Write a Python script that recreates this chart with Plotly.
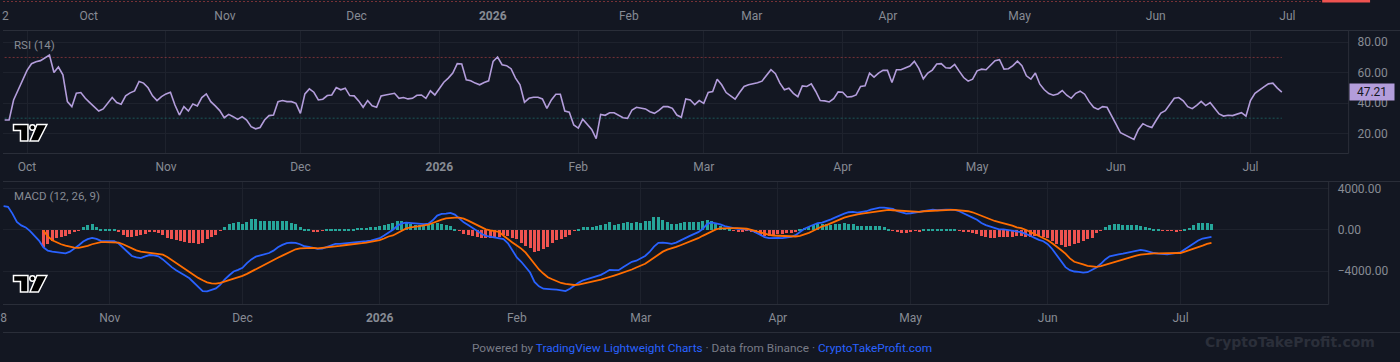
import pandas as pd
import plotly.graph_objects as go

W, H = 1400, 362
BG = '#131722'
GRID = '#1e222d'
BORDER = '#2a2e39'
TEXT = '#878b94'
FONT = 'Roboto'

# ---------------- data ----------------
rsi_start = '2025-09-26'
rsi_values = [
    28.8, 28.8, 42.0, 48.2, 55.3, 61.5, 65.9, 67.2, 67.9, 69.6,
    71.6, 60.1, 63.7, 58.6, 40.9, 37.6, 46.4, 46.9, 43.1, 40.3,
    37.2, 34.7, 36.1, 39.8, 43.6, 40.3, 39.2, 44.7, 46.7, 48.0,
    54.2, 53.1, 50.0, 44.7, 41.6, 44.2, 46.0, 47.1, 38.7, 32.1,
    37.6, 34.7, 39.4, 38.1, 43.6, 46.0, 40.9, 38.1, 35.0, 30.3,
    32.5, 31.0, 29.2, 31.0, 28.8, 24.4, 23.0, 23.9, 28.8, 31.7,
    32.1, 40.9, 41.6, 40.9, 40.9, 39.8, 33.2, 46.0, 49.3, 47.1,
    42.0, 42.5, 44.9, 45.3, 50.2, 48.7, 49.8, 44.9, 44.7, 41.4,
    37.2, 41.6, 38.1, 37.2, 44.7, 45.3, 46.0, 46.4, 43.1, 43.6,
    42.7, 43.1, 45.1, 45.3, 43.1, 48.0, 45.3, 49.8, 53.7, 56.4,
    59.7, 65.9, 65.7, 55.3, 54.6, 53.1, 52.0, 53.5, 54.6, 67.4,
    70.3, 65.2, 64.6, 62.6, 56.4, 52.0, 40.5, 43.1, 43.8, 43.8,
    42.7, 36.5, 42.0, 45.8, 45.8, 34.7, 33.9, 25.5, 23.5, 29.4,
    26.1, 22.6, 16.6, 32.5, 31.9, 33.6, 33.6, 32.1, 30.3, 29.9,
    35.4, 37.2, 36.5, 36.1, 34.3, 33.2, 35.2, 37.6, 37.6, 36.5,
    32.1, 30.6, 42.7, 42.0, 38.9, 41.6, 39.8, 46.9, 47.6, 55.7,
    52.0, 46.9, 44.7, 42.5, 46.9, 50.9, 52.0, 52.6, 53.3, 54.4,
    57.9, 61.9, 59.3, 53.1, 48.7, 49.8, 46.4, 44.2, 51.3, 50.9,
    52.6, 47.6, 41.6, 41.4, 40.7, 42.9, 47.3, 47.1, 44.0, 44.2,
    45.3, 50.9, 51.3, 59.7, 57.0, 59.7, 61.5, 61.5, 53.5, 61.9,
    61.9, 63.0, 64.3, 67.4, 62.8, 55.9, 59.7, 61.7, 65.7, 65.9,
    63.2, 63.0, 65.4, 61.0, 56.8, 54.4, 55.7, 61.2, 62.3, 61.9,
    65.0, 67.9, 68.5, 62.3, 62.6, 64.6, 67.6, 64.6, 57.9, 55.7,
    59.7, 52.4, 48.7, 46.2, 45.1, 46.0, 48.2, 45.1, 43.1, 46.4,
    47.8, 45.8, 40.9, 37.2, 35.8, 37.6, 37.2, 32.1, 26.1, 20.4,
    19.1, 17.3, 16.0, 22.6, 26.4, 24.8, 23.9, 28.8, 33.4, 35.0,
    39.4, 43.1, 43.6, 41.4, 37.6, 36.3, 38.5, 41.1, 38.3, 40.3,
    36.5, 32.8, 31.4, 31.9, 31.7, 32.5, 33.6, 31.4, 41.6, 46.4,
    48.7, 50.6, 52.6, 53.1, 49.8, 47.21,
]
rsi_levels = [70, 30]
rsi_last_label = '47.21'

macd_start = '2025-10-08'
macd_line = [
    2274, 2208, 1558, 745, 420, 225, -133, -556, -1044, -1694,
    -2019, -2117, -2149, -2214, -2279, -2117, -1824, -1499, -1141, -914,
    -783, -881, -1076, -1109, -1109, -1109, -1336, -1727, -2149, -2540,
    -2670, -2735, -2572, -2442, -2474, -2572, -2865, -3255, -3613, -3905,
    -4198, -4426, -4686, -5109, -5596, -5922, -5954, -5824, -5661, -5304,
    -4783, -4393, -4035, -3873, -3678, -3222, -2865, -2605, -2507, -2377,
    -2247, -2019, -1694, -1466, -1304, -1239, -1271, -1401, -1596, -1661,
    -1792, -1857, -1824, -1661, -1531, -1369, -1369, -1336, -1271, -1271,
    -1206, -1141, -1109, -1044, -914, -816, -556, -296, -3, 387,
    615, 680, 647, 582, 582, 550, 582, 908, 1363, 1525,
    1558, 1623, 1460, 1070, 712, 452, 160, -68, -393, -588,
    -653, -718, -848,
    -914, -1304, -2052, -2670, -3092, -3580, -4133, -5044, -5466, -5694,
    -5759, -5759, -5792, -5857, -5922, -5694, -5369, -5109, -4881, -4751,
    -4686, -4556, -4361, -4133, -3873, -3905, -3905, -3613, -3320, -3092,
    -2995, -2800, -2540, -2149, -1629, -1271, -1239, -1304, -1369, -1239,
    -1011, -816, -621, -426, -231, 62, 550, 712, 647, 517,
    355, 225, 160, 95, 95, 30, -35, -263, -523, -718,
    -816, -783, -783, -816, -783, -686, -523, -198, 95, 290,
    452, 647, 680, 810, 1005, 1200, 1395, 1558, 1688, 1721,
    1656, 1688, 1786, 1948, 2078, 2143, 2143, 2111, 2013, 1786,
    1656, 1558, 1591, 1656, 1721, 1818, 1916, 1948, 1883, 1948,
    1948, 1948, 1916, 1786, 1558, 1363, 1168, 973, 647, 452,
    322, 192, 30,
    30, -35, -68, -133, -231, -393, -588, -816, -979, -1109,
    -1401, -1857, -2442, -3027, -3613, -3905, -4035, -4068, -4133, -4100,
    -3905, -3645, -3287, -2865, -2572, -2442, -2377, -2312, -2214, -2117,
    -2052, -1954, -2019, -2149, -2247, -2312, -2377, -2377, -2312, -2279,
    -2182, -1889, -1596, -1304, -1044, -848, -751, -686,
]
macd_signal = [None] * 9 + [
    -68, -653, -1011, -1239, -1401, -1531, -1661, -1727, -1759, -1694,
    -1564, -1401, -1271, -1206, -1206, -1206, -1206, -1239, -1401, -1596,
    -1824, -1987, -2117, -2182, -2214, -2247, -2312, -2409, -2637, -2930,
    -3190, -3515, -3808, -4068, -4361, -4653, -4881, -5076, -5174, -5206,
    -5141, -5011, -4881, -4718, -4588, -4458, -4263, -4035, -3775, -3548,
    -3320, -3092, -2865, -2702, -2507, -2312, -2052, -1889, -1792, -1759,
    -1727, -1759, -1792, -1759, -1694, -1661, -1629, -1564, -1499, -1466,
    -1434, -1369, -1304, -1239, -1174, -1109, -1011, -848, -653, -556,
    -328, -68, 127, 225, 322, 355, 420, 485, 647, 843,
    973, 1103, 1168, 1168, 1168, 1070, 875, 647, 420, 225,
    30, -68, -133, -198,
    -588, -946, -1239, -1531, -1824, -2214, -2767, -3353, -3840, -4231,
    -4588, -4783, -4979, -5141, -5239, -5304, -5336, -5304, -5206, -5174,
    -5076, -4979, -4816, -4686, -4523, -4426, -4296, -4166, -4003, -3840,
    -3645, -3483, -3287, -2995, -2702, -2409, -2117, -1922, -1824, -1661,
    -1499, -1336, -1141, -979, -816, -588, -393, -166, 30, 127,
    160, 160, 160, 160, 160, 95, -3, -133, -296, -426,
    -491, -556, -588, -588, -621, -653, -653, -588, -458, -296,
    -101, 127, 322, 452, 647, 843, 1038, 1168, 1298, 1428,
    1493, 1558, 1623, 1688, 1786, 1851, 1916, 1916, 1883, 1851,
    1786, 1753, 1721, 1721, 1721, 1786, 1818, 1851, 1883, 1883,
    1883, 1916, 1916, 1883, 1851, 1786, 1688, 1525, 1363, 1168,
    973, 843, 745,
    647, 517, 387, 225, 160, -3, -198, -393, -588, -751,
    -1011, -1304, -1596, -1954, -2312, -2767, -3092, -3190, -3353, -3483,
    -3548, -3580, -3515, -3385, -3255, -3092, -2995, -2865, -2735, -2637,
    -2507, -2409, -2344, -2279, -2279, -2279, -2279, -2279, -2279, -2279,
    -2247, -2117, -1987, -1824, -1661, -1531, -1369, -1271,
]
macd_hist = [None] * 9 + [
    -1593, -1366, -1041, -780, -650, -553, -390, -130, -33, 325,
    520, 585, 358, 163, 98, 98, 98, -130, -455, -650,
    -650, -553, -455, -325, -130, -130, -293, -455, -715, -878,
    -943, -1041, -1138, -1203, -1203, -1301, -1203, -878, -650, -455,
    -65, 325, 650, 715, 813, 650, 813, 1073, 1073, 911,
    846, 846, 911, 911, 911, 911, 715, 585, 325, 98,
    98, -130, -163, -65, 130, 163, 163, 163, 163, 163,
    163, 195, 195, 228, 325, 325, 390, 488, 585, 683,
    846, 846, 748, 585, 520, 488, 553, 520, 650, 683,
    585, 520, 390, 163, -65, -325, -455, -553, -618, -715,
    -780, -715, -780, -650,
    -455, -553, -715, -878, -1203, -1528, -1691, -2081, -2016, -1854,
    -1593, -1203, -976, -878, -650, -455, -65, 98, 325, 325,
    325, 423, 520, 650, 748, 520, 585, 715, 748, 683,
    748, 683, 846, 911, 1236, 1236, 1008, 748, 585, 585,
    683, 748, 748, 748, 748, 846, 1008, 911, 650, 423,
    260, 98, -65, -130, -130, -65, -130, -260, -455, -553,
    -553, -455, -390, -390, -293, -228, -130, 98, 260, 358,
    520, 585, 650, 585, 488, 585, 650, 683, 650, 650,
    423, 423, 423, 423, 423, 390, 325, 33, -65, -130,
    -228, -228, -130, -65, -98, 98, 98, 130, 98, 98,
    98, 98, 65, -33, -130, -195, -293, -390, -553, -650,
    -715, -780, -700,
    -683, -683, -650, -553, -553, -650, -650, -520, -553, -650,
    -748, -1041, -1301, -1463, -1593, -1528, -1366, -1203, -1041, -878,
    -715, -260, -65, 325, 520, 650, 650, 520, 520, 520,
    488, 423, 325, 195, 98, 33, -20, -65, -65, -130,
    -33, 65, 260, 488, 683, 715, 683, 585,
]

month_ticks = ['2025-10-01', '2025-11-01', '2025-12-01', '2026-01-01', '2026-02-01',
               '2026-03-01', '2026-04-01', '2026-05-01', '2026-06-01', '2026-07-01']
month_labels = ['Oct', 'Nov', 'Dec', '<b>2026</b>', 'Feb', 'Mar', 'Apr', 'May', 'Jun', 'Jul']
top_ticks = ['2025-09-12'] + month_ticks
top_labels = ['2'] + month_labels
macd_ticks = ['2025-10-08'] + month_ticks[1:]
macd_labels = ['8'] + month_labels[1:]
rsi_y_ticks = [20, 40, 60, 80]
rsi_y_labels = ['20.00', '40.00', '60.00', '80.00']
macd_y_ticks = [-4000, 0, 4000]
macd_y_labels = ['\u22124000.00', '0.00', '4000.00']

rsi_dates = pd.date_range(rsi_start, periods=len(rsi_values), freq='D')
macd_dates = pd.date_range(macd_start, periods=len(macd_line), freq='D')


# ---------------- helpers (layout geometry) ----------------
def px(x):
    return x / W


def py(y):
    return 1 - y / H


def date_span(anchor, anchor_px, px_per_day, left_px, right_px):
    t0 = pd.Timestamp(anchor)
    a = t0 + pd.Timedelta(days=(left_px - anchor_px) / px_per_day)
    b = t0 + pd.Timedelta(days=(right_px - anchor_px) / px_per_day)
    return [a.strftime('%Y-%m-%d %H:%M:%S'), b.strftime('%Y-%m-%d %H:%M:%S')]


RSI_SCALE_X = 1348.5
MACD_SCALE_X = 1328.5

fig = go.Figure()

# RSI levels
level_colors = ['rgba(239,83,80,0.45)', 'rgba(38,166,154,0.45)']
for lvl, col in zip(rsi_levels, level_colors):
    fig.add_trace(go.Scatter(x=rsi_dates, y=[lvl] * len(rsi_dates), mode='lines',
                             line=dict(color=col, width=1, dash='2px,2px'),
                             xaxis='x', yaxis='y', hoverinfo='skip', showlegend=False))
# RSI line
fig.add_trace(go.Scatter(x=rsi_dates, y=rsi_values, mode='lines',
                         line=dict(color='#b39ddb', width=1.6),
                         xaxis='x', yaxis='y', hoverinfo='skip', showlegend=False))

# MACD histogram
hist_colors = ['#26a69a' if (v is not None and v >= 0) else '#ef5350' for v in macd_hist]
fig.add_trace(go.Bar(x=macd_dates, y=macd_hist, marker=dict(color=hist_colors, line=dict(width=0)),
                     width=0.68 * 86400000, xaxis='x2', yaxis='y2', hoverinfo='skip', showlegend=False))
fig.add_trace(go.Scatter(x=macd_dates, y=macd_line, mode='lines',
                         line=dict(color='#2962ff', width=1.8),
                         xaxis='x2', yaxis='y2', hoverinfo='skip', showlegend=False))
fig.add_trace(go.Scatter(x=macd_dates, y=macd_signal, mode='lines',
                         line=dict(color='#ff6d00', width=1.8),
                         xaxis='x2', yaxis='y2', hoverinfo='skip', showlegend=False))

# dummy trace for the top strip's time axis
fig.add_trace(go.Scatter(x=top_ticks, y=[None] * len(top_ticks), mode='markers',
                         xaxis='x3', yaxis='y3', hoverinfo='skip', showlegend=False))

tickfont = dict(family=FONT, size=12, color=TEXT)

fig.update_layout(
    width=W, height=H, margin=dict(l=0, r=0, t=0, b=0),
    paper_bgcolor=BG, plot_bgcolor=BG, bargap=0, hovermode=False,
    xaxis=dict(domain=[0, px(RSI_SCALE_X)], anchor='y', type='date',
               range=date_span('2025-10-01', 24.1, 4.491, 0, RSI_SCALE_X),
               tickmode='array', tickvals=month_ticks, ticktext=month_labels,
               showgrid=True, gridcolor=GRID, gridwidth=1, zeroline=False, showline=False,
               ticks='', tickfont=tickfont, ticklabelstandoff=4, ticklabeloverflow='allow',
               fixedrange=True),
    yaxis=dict(domain=[py(153.5), py(30.5)], anchor='x', side='right',
               range=[6.75, 87.75], tickmode='array', tickvals=rsi_y_ticks, ticktext=rsi_y_labels,
               showgrid=True, gridcolor=GRID, zeroline=False, showline=False, ticks='',
               tickfont=tickfont, ticklabelstandoff=8, fixedrange=True),
    xaxis2=dict(domain=[0, px(MACD_SCALE_X)], anchor='y2', type='date',
                range=date_span('2025-11-01', 107.0, 4.434, 0, MACD_SCALE_X),
                tickmode='array', tickvals=macd_ticks, ticktext=macd_labels,
                showgrid=True, gridcolor=GRID, zeroline=False, showline=False,
                ticks='', tickfont=tickfont, ticklabelstandoff=4, ticklabeloverflow='allow',
                fixedrange=True),
    yaxis2=dict(domain=[py(304.5), py(181.5)], anchor='x2', side='right',
                range=[-7221, 4658], tickmode='array', tickvals=macd_y_ticks, ticktext=macd_y_labels,
                showgrid=True, gridcolor=GRID, zeroline=False, showline=False, ticks='',
                tickfont=tickfont, ticklabelstandoff=8, fixedrange=True),
    xaxis3=dict(domain=[0, 1], anchor='free', position=py(7), type='date',
                range=date_span('2025-10-01', 86.0, 4.40, 0, W),
                tickmode='array', tickvals=top_ticks, ticktext=top_labels,
                showgrid=False, zeroline=False, showline=False, ticks='',
                tickfont=tickfont, ticklabelstandoff=0, ticklabeloverflow='allow', fixedrange=True),
    yaxis3=dict(domain=[py(30), 1], anchor='x3', visible=False, range=[0, 1], fixedrange=True),
)

shapes = []


def hline(y, x0, x1, color=BORDER, width=1, dash='solid'):
    shapes.append(dict(type='line', xref='paper', yref='paper', x0=px(x0), x1=px(x1),
                       y0=py(y), y1=py(y), line=dict(color=color, width=width, dash=dash), layer='above'))


def vline(x, y0, y1, color=BORDER, width=1):
    shapes.append(dict(type='line', xref='paper', yref='paper', x0=px(x), x1=px(x),
                       y0=py(y0), y1=py(y1), line=dict(color=color, width=width), layer='above'))


# pane borders
hline(30.5, 0, W)
vline(RSI_SCALE_X, 30.5, 153.5)
hline(153.5, 0, RSI_SCALE_X)
hline(181.5, 0, W)
vline(MACD_SCALE_X, 181.5, 304.5)
hline(304.5, 0, MACD_SCALE_X)
hline(332.5, 0, W)

# top strip remnants of previous chart
hline(1.5, 0, 1322, color='rgba(239,83,80,0.45)', dash='2px,2px')
shapes.append(dict(type='rect', xref='paper', yref='paper', x0=px(1322), x1=px(1370),
                   y0=py(2.5), y1=py(0), fillcolor='#ef5350', line=dict(width=0), layer='above'))


def poly(points):
    return 'M ' + ' L '.join(f'{px(x):.6f},{py(y):.6f}' for x, y in points) + ' Z'


# TradingView logos
for dy in (0, 151):
    t_shape = [(10.5, 124.5 + dy), (25, 124.5 + dy), (25, 141 + dy), (17.5, 141 + dy),
               (17.5, 130.5 + dy), (10.5, 130.5 + dy)]
    slash = [(34, 124.5 + dy), (44, 124.5 + dy), (35.5, 141 + dy), (27, 141 + dy)]
    for pts in (t_shape, slash):
        shapes.append(dict(type='path', xref='paper', yref='paper', path=poly(pts),
                           fillcolor='#000000', line=dict(color='#ffffff', width=1.5), layer='above'))
    shapes.append(dict(type='circle', xref='paper', yref='paper', x0=px(26.8), x1=px(32.2),
                       y0=py(130.2 + dy), y1=py(124.8 + dy), fillcolor='#000000',
                       line=dict(color='#ffffff', width=1.5), layer='above'))

fig.update_layout(shapes=shapes)

legend_font = dict(family=FONT, size=11.5, color=TEXT)
annotations = [
    dict(text='RSI (14)', x=px(9), y=py(45), xref='paper', yref='paper',
         xanchor='left', yanchor='middle', showarrow=False, font=legend_font),
    dict(text='MACD (12, 26, 9)', x=px(9), y=py(196), xref='paper', yref='paper',
         xanchor='left', yanchor='middle', showarrow=False, font=legend_font),
    dict(text=rsi_last_label, x=px(RSI_SCALE_X + 0.5), y=rsi_values[-1], xref='paper', yref='y',
         xanchor='left', yanchor='middle', showarrow=False, bgcolor='#b39ddb',
         width=44, height=16, borderpad=0, align='center',
         font=dict(family=FONT, size=12, color='#131722')),
    dict(text='Powered by <span style="color:#2962ff">TradingView Lightweight Charts</span>'
              ' \u00b7 Data from Binance \u00b7 <span style="color:#2962ff">CryptoTakeProfit.com</span>',
         x=0.5, y=py(348), xref='paper', yref='paper', xanchor='center', yanchor='middle',
         showarrow=False, font=dict(family=FONT, size=11.8, color='#787b86')),
    dict(text='<b>CryptoTakeProfit.com</b>', x=px(1377), y=py(342), xref='paper', yref='paper',
         xanchor='right', yanchor='middle', showarrow=False,
         font=dict(family='DejaVu Sans', size=14, color='#2b2f3a')),
]
fig.update_layout(annotations=annotations)

fig.write_html('out.html')
